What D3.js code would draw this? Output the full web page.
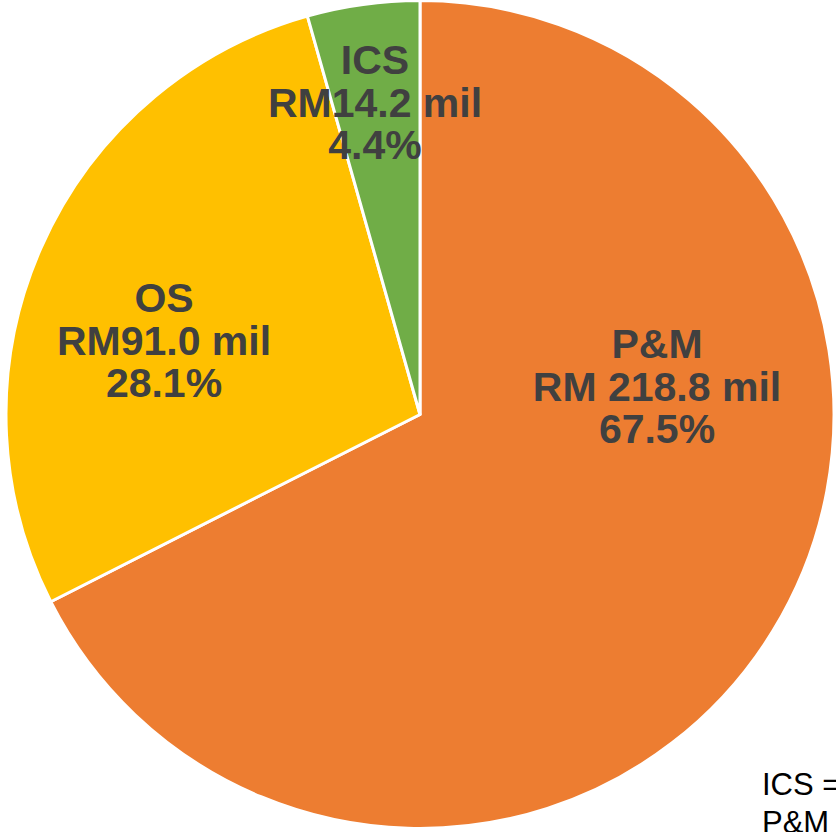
<!DOCTYPE html>
<html>
<head>
<meta charset="utf-8">
<script src="https://cdn.jsdelivr.net/npm/d3@7"></script>
<style>
  html, body { margin: 0; padding: 0; background: #fff; overflow: hidden; }
  svg { display: block; }
</style>
</head>
<body>
<svg id="chart" width="836" height="832"></svg>
<script>
// ---- data ----
const categories = ["P&M", "OS", "ICS"];
const values = [218.8, 91.0, 14.2];
const valueLabels = ["RM 218.8 mil", "RM91.0 mil", "RM14.2 mil"];
const percentLabels = ["67.5%", "28.1%", "4.4%"];
const colors = ["#ED7D31", "#FFC000", "#70AD47"];
const footnotes = ["ICS =", "P&M"];

// ---- layout ----
const W = 836, H = 832;
const cx = 420, cy = 414.5, R = 414;
// label anchor (center of middle line) offsets from pie center
const labelOffsets = [[237, -28], [-256, -74], [-45, -312]];

const svg = d3.select("#chart");
const g = svg.append("g").attr("transform", `translate(${cx},${cy})`);

const pie = d3.pie().sort(null).value(d => d.v);
const arc = d3.arc().innerRadius(0).outerRadius(R);
const data = categories.map((c, i) => ({ c, v: values[i], i }));

g.selectAll("path.slice")
  .data(pie(data))
  .join("path")
  .attr("class", "slice")
  .attr("d", arc)
  .attr("fill", d => colors[d.data.i])
  .attr("stroke", "#fff")
  .attr("stroke-width", 3)
  .attr("stroke-linejoin", "round");

const fs = 41, lh = 42.5;
const labels = g.selectAll("text.lbl")
  .data(data)
  .join("text")
  .attr("class", "lbl")
  .attr("text-anchor", "middle")
  .attr("font-family", "'Liberation Sans', Arial, sans-serif")
  .attr("font-weight", "bold")
  .attr("font-size", fs)
  .attr("fill", "#404040")
  .attr("transform", d => `translate(${labelOffsets[d.i][0]},${labelOffsets[d.i][1]})`);

labels.each(function(d) {
  const t = d3.select(this);
  const lines = [d.c, valueLabels[d.i], percentLabels[d.i]];
  lines.forEach((s, k) => {
    t.append("tspan")
      .attr("x", 0)
      .attr("y", (k - 1) * lh)
      .attr("dy", "0.35em")
      .text(s);
  });
});

svg.selectAll("text.note")
  .data(footnotes)
  .join("text")
  .attr("class", "note")
  .attr("x", 762)
  .attr("y", (d, i) => 795 + i * 38)
  .attr("font-family", "'Liberation Sans', Arial, sans-serif")
  .attr("font-size", 31)
  .attr("fill", "#000")
  .text(d => d);
</script>
</body>
</html>
